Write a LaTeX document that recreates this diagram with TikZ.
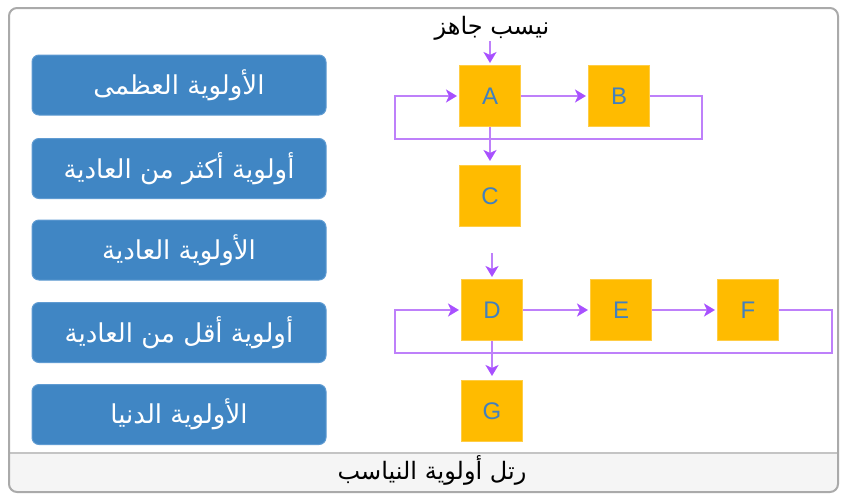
\documentclass[tikz,border=0pt]{standalone}
\usepackage{fontspec}
\setmainfont{Liberation Sans}
\newfontfamily\arabicfont[Script=Arabic]{DejaVu Sans}
\TeXXeTstate=1
\usetikzlibrary{arrows.meta}

\definecolor{framegray}{RGB}{170,170,170}
\definecolor{bandgray}{RGB}{245,245,245}
\definecolor{bandline}{RGB}{196,196,196}
\definecolor{levelblue}{RGB}{64,134,196}
\definecolor{leveledge}{RGB}{95,155,210}
\definecolor{taskyellow}{RGB}{255,187,0}
\definecolor{taskedge}{RGB}{255,205,70}
\definecolor{taskletter}{RGB}{66,128,190}
\definecolor{flowpurple}{RGB}{190,128,250}
\definecolor{tippurple}{RGB}{168,80,255}

\tikzset{
  level/.style={draw=leveledge, line width=1pt, fill=levelblue, rounded corners=7pt,
    minimum width=294pt, minimum height=60pt, inner sep=0pt,
    text=white, font=\arabicfont\fontsize{26}{30}\selectfont},
  task/.style={draw=taskedge, line width=1pt, fill=taskyellow,
    minimum width=61pt, minimum height=61pt, inner sep=0pt,
    text=taskletter, font=\fontsize{24}{28}\selectfont},
  flow/.style={draw=flowpurple, line width=2.5pt},
  tip/.style={-{Stealth[length=11pt,width=13pt,inset=3pt,color=tippurple]}, shorten >=2pt},
  caption/.style={text=black, font=\arabicfont\fontsize{24}{28}\selectfont}
}

\begin{document}
\begin{tikzpicture}[x=1pt,y=-1pt]
\useasboundingbox (0,0) rectangle (841,496);

% outer frame with its caption band
\begin{scope}
  \clip[rounded corners=8pt] (9,8) rectangle (838,492);
  \fill[white] (9,8) rectangle (838,492);
  \fill[bandgray] (9,453) rectangle (838,492);
  \draw[bandline, line width=1.5pt] (9,453) -- (838,453);
\end{scope}
\draw[framegray, line width=2pt, rounded corners=8pt] (9,8) rectangle (838,492);
\node[caption] (title) at (432,470) {\beginR رتل أولوية النياسب\endR};

% priority levels
\node[level] (p1) at (179,85)    {\beginR الأولوية العظمى\endR};
\node[level] (p2) at (179,168.5) {\beginR أولوية أكثر من العادية\endR};
\node[level] (p3) at (179,250)   {\beginR الأولوية العادية\endR};
\node[level] (p4) at (179,332.5) {\beginR أولوية أقل من العادية\endR};
\node[level] (p5) at (179,414.5) {\beginR الأولوية الدنيا\endR};

% processes
\node[task] (A) at (490,96)  {A};
\node[task] (B) at (619,96)  {B};
\node[task] (C) at (490,196) {C};
\node[task] (D) at (492,310) {D};
\node[task] (E) at (621,310) {E};
\node[task] (F) at (748,310) {F};
\node[task] (G) at (492,411) {G};

% incoming process
\node[caption] (ready) at (492,28) {\beginR نيسب جاهز\endR};
\coordinate (inA) at (490,41);
\coordinate (inD) at (492,253);

% round robin of the upper queue
\coordinate (r1) at (702,139);
\coordinate (l1) at (395,139);
\draw[flow, tip] (inA) -- (A.north);
\draw[flow, tip] (A.east) -- (B.west);
\draw[flow, tip] (B.east) -| (r1) -- (l1) |- (A.west);
\draw[flow, tip, shorten >=4pt] (A.south) -- (C.north);

% round robin of the lower queue
\coordinate (r2) at (832,353);
\coordinate (l2) at (395,353);
\draw[flow, tip] (inD) -- (D.north);
\draw[flow, tip] (D.east) -- (E.west);
\draw[flow, tip] (E.east) -- (F.west);
\draw[flow, tip] (F.east) -| (r2) -- (l2) |- (D.west);
\draw[flow, tip, shorten >=4pt] (D.south) -- (G.north);
\end{tikzpicture}
\end{document}
